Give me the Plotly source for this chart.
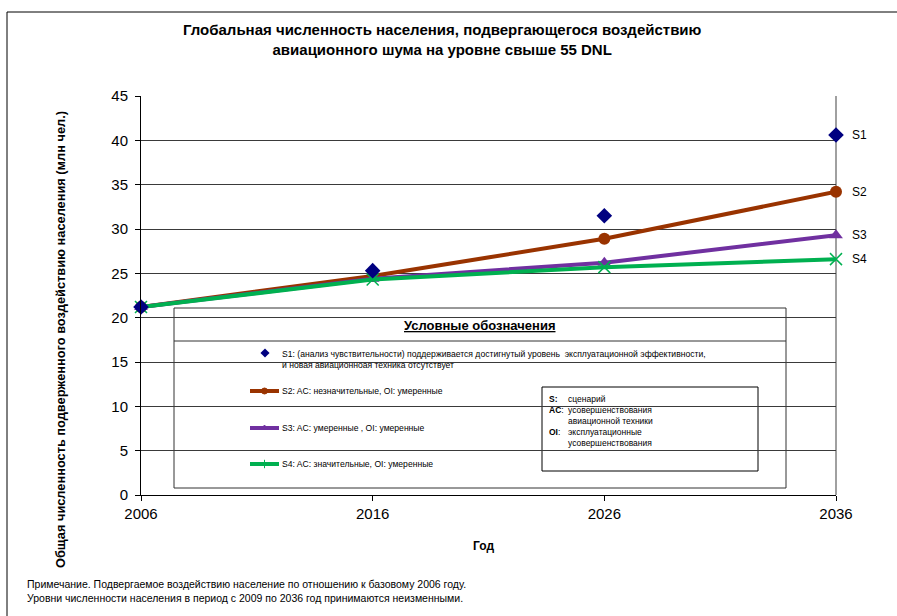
import plotly.graph_objects as go

# ---- data -------------------------------------------------------------
years = [2006, 2016, 2026, 2036]
s1_values = [21.2, 25.3, 31.5, 40.6]
s2_values = [21.2, 24.7, 28.9, 34.2]
s3_values = [21.2, 24.4, 26.2, 29.3]
s4_values = [21.2, 24.3, 25.7, 26.6]
y_ticks = [0, 5, 10, 15, 20, 25, 30, 35, 40, 45]

series_names = ["S1", "S2", "S3", "S4"]
legend_texts = [
    "S1: (анализ чувствительности) поддерживается достигнутый уровень  эксплуатационной эффективности,<br>и новая авиационноая техника отсутствует",
    "S2: AC: незначительные, OI: умеренные",
    "S3: AC: умеренные , OI: умеренные",
    "S4: AC: значительные, OI: умеренные",
]

# ---- styling ----------------------------------------------------------
W, H = 897, 616
L, R, T, B = 141, 836, 96, 495          # plot area edges in pixels
FONT = "Liberation Sans, Arial, sans-serif"
C1, C2, C3, C4 = "#000080", "#993300", "#7030A0", "#00B050"


def fx(p):
    return (p - L) / (R - L)


def fy(p):
    return (B - p) / (B - T)


fig = go.Figure()

# scenario lines (drawn first so S1 diamonds sit on top)
fig.add_trace(go.Scatter(x=years, y=s2_values, mode="lines+markers", name="S2",
                         line=dict(color=C2, width=4),
                         marker=dict(symbol="circle", size=12, color=C2),
                         cliponaxis=False))
fig.add_trace(go.Scatter(x=years, y=s3_values, mode="lines+markers", name="S3",
                         line=dict(color=C3, width=4),
                         marker=dict(symbol="triangle-up", size=12, color=C3),
                         cliponaxis=False))
fig.add_trace(go.Scatter(x=years, y=s4_values, mode="lines+markers", name="S4",
                         line=dict(color=C4, width=4),
                         marker=dict(symbol="x-thin-open", size=12,
                                     line=dict(color=C4, width=1.5)),
                         cliponaxis=False))
fig.add_trace(go.Scatter(x=years, y=s1_values, mode="markers", name="S1",
                         marker=dict(symbol="diamond", size=12, color=C1),
                         cliponaxis=False))

# legend keys on a pixel-scaled overlay axis
key_x0, key_x1 = 250, 279
fig.add_trace(go.Scatter(x=[265], y=[353], mode="markers", xaxis="x2", yaxis="y2",
                         marker=dict(symbol="diamond", size=7, color=C1)))
for ky, col, sym in [(391, C2, "circle"), (428, C3, "triangle-up"), (464, C4, "line-ns-open")]:
    fig.add_trace(go.Scatter(x=[key_x0, key_x1], y=[ky, ky], mode="lines",
                             xaxis="x2", yaxis="y2",
                             line=dict(color=col, width=4)))
    fig.add_trace(go.Scatter(x=[(key_x0 + key_x1) / 2], y=[ky], mode="markers",
                             xaxis="x2", yaxis="y2",
                             marker=dict(symbol=sym, size=6, color=col,
                                         line=dict(color=col, width=1))))

shapes = [
    # outer chart border (top and left)
    dict(type="line", xref="paper", yref="paper", x0=fx(7), x1=fx(W + 5),
         y0=fy(12), y1=fy(12), line=dict(color="black", width=1), layer="above"),
    dict(type="line", xref="paper", yref="paper", x0=fx(7), x1=fx(7),
         y0=fy(12), y1=fy(H + 5), line=dict(color="black", width=1), layer="above"),
    # right edge of plot area
    dict(type="line", xref="paper", yref="paper", x0=1, x1=1, y0=0, y1=1,
         line=dict(color="#808080", width=1.5), layer="below"),
    # legend box
    dict(type="rect", xref="paper", yref="paper", x0=fx(174), x1=fx(786),
         y0=fy(488), y1=fy(308), fillcolor="white",
         line=dict(color="#333333", width=1), layer="between"),
    dict(type="line", xref="paper", yref="paper", x0=fx(174), x1=fx(786),
         y0=fy(341), y1=fy(341), line=dict(color="#333333", width=1), layer="between"),
    # abbreviation box
    dict(type="rect", xref="paper", yref="paper", x0=fx(542), x1=fx(758),
         y0=fy(471), y1=fy(387), fillcolor="white",
         line=dict(color="black", width=1), layer="between"),
]

annotations = [
    dict(text="<b>Глобальная численность населения, подвергающегося воздействию<br>"
              "авиационного шума на уровне свыше 55 DNL</b>",
         xref="paper", yref="paper", x=fx(442), y=fy(39), xanchor="center",
         yanchor="middle", showarrow=False, align="center",
         font=dict(family=FONT, size=15, color="black")),
    dict(text="<b>Общая численность подверженного воздействию населения (млн чел.)</b>",
         xref="paper", yref="paper", x=fx(60), y=fy(340), textangle=-90,
         xanchor="center", yanchor="middle", showarrow=False,
         font=dict(family=FONT, size=12.8, color="black")),
    dict(text="<b>Год</b>", xref="paper", yref="paper", x=fx(483), y=fy(546),
         xanchor="center", yanchor="middle", showarrow=False,
         font=dict(family=FONT, size=12, color="black")),
    dict(text="Примечание. Подвергаемое воздействию население по отношению к базовому 2006 году.<br>"
              "Уровни численности населения в период с 2009 по 2036 год принимаются неизменными.",
         xref="paper", yref="paper", x=fx(25), y=fy(591), xanchor="left",
         yanchor="middle", showarrow=False, align="left",
         font=dict(family=FONT, size=10.5, color="black")),
    dict(text="<b><u>Условные обозначения</u></b>", xref="paper", yref="paper",
         x=fx(479), y=fy(325), xanchor="center", yanchor="middle", showarrow=False,
         font=dict(family=FONT, size=13, color="black")),
    dict(text=legend_texts[0], xref="paper", yref="paper", x=fx(280), y=fy(359),
         xanchor="left", yanchor="middle", showarrow=False, align="left",
         font=dict(family=FONT, size=8.6, color="black")),
]
for txt, ky in zip(legend_texts[1:], [391, 428, 464]):
    annotations.append(dict(text=txt, xref="paper", yref="paper", x=fx(280), y=fy(ky),
                            xanchor="left", yanchor="middle", showarrow=False,
                            font=dict(family=FONT, size=8.6, color="black")))

abbr_lines = [("<b>S:</b>", "сценарий", 399), ("<b>AC</b>:", "усовершенствования", 410),
              ("", "авиационной техники", 421), ("<b>OI</b>:", "эксплуатационные", 432),
              ("", "усовершенствования", 443)]
for key, desc, ky in abbr_lines:
    if key:
        annotations.append(dict(text=key, xref="paper", yref="paper", x=fx(547), y=fy(ky),
                                xanchor="left", yanchor="middle", showarrow=False,
                                font=dict(family=FONT, size=8.5, color="black")))
    annotations.append(dict(text=desc, xref="paper", yref="paper", x=fx(566), y=fy(ky),
                            xanchor="left", yanchor="middle", showarrow=False,
                            font=dict(family=FONT, size=8.5, color="black")))

# series labels at the right end of each series
for name, vals in zip(series_names, [s1_values, s2_values, s3_values, s4_values]):
    annotations.append(dict(text=name, x=years[-1], y=vals[-1], xref="x", yref="y",
                            xanchor="left", yanchor="middle", xshift=14, showarrow=False,
                            font=dict(family=FONT, size=12, color="black")))

fig.update_layout(
    width=W, height=H,
    margin=dict(l=L, r=W - R, t=T, b=H - B, pad=0),
    paper_bgcolor="white", plot_bgcolor="white",
    showlegend=False,
    font=dict(family=FONT, color="black"),
    xaxis=dict(range=[years[0], years[-1]], tickvals=years, ticktext=[str(y) for y in years],
               showgrid=False, zeroline=False, showline=True, linecolor="black",
               linewidth=1, ticks="outside", ticklen=5, tickcolor="black",
               tickfont=dict(family=FONT, size=15, color="black")),
    yaxis=dict(range=[0, 45], tickvals=y_ticks, showgrid=True, gridcolor="#3a3a3a",
               gridwidth=1, zeroline=False, showline=True, linecolor="black",
               linewidth=1, ticks="outside", ticklen=5, tickcolor="black",
               ticklabelstandoff=4,
               tickfont=dict(family=FONT, size=15, color="black")),
    xaxis2=dict(range=[L, R], overlaying="x", visible=False, fixedrange=True),
    yaxis2=dict(range=[B, T], overlaying="y", visible=False, fixedrange=True),
    shapes=shapes,
    annotations=annotations,
)

fig.write_html("out.html")
